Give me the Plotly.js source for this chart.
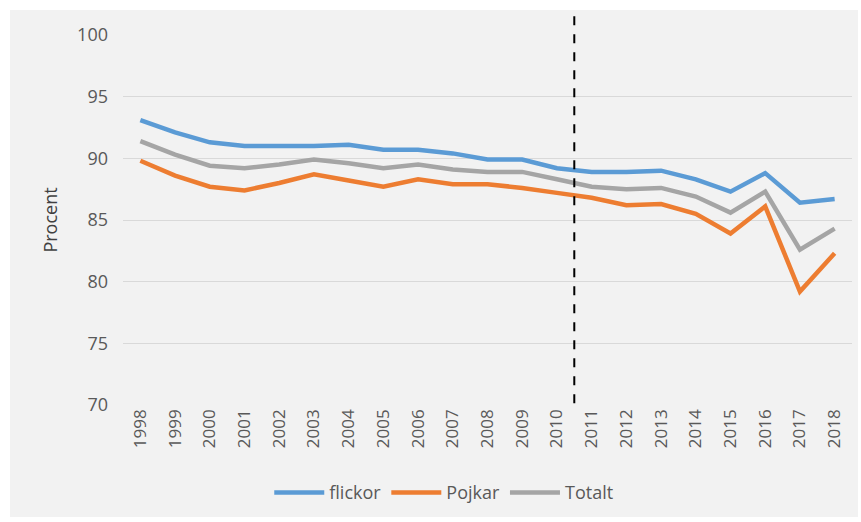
<!DOCTYPE html>
<html><head><meta charset="utf-8">
<script src="https://cdn.plot.ly/plotly-3.0.1.min.js"></script>
<style>html,body{margin:0;padding:0;background:#fff;}#c{position:absolute;left:10px;top:10px;width:848px;height:507px;}</style>
</head><body><div id="c"></div>
<script>
const years = ['1998','1999','2000','2001','2002','2003','2004','2005','2006','2007','2008','2009','2010','2011','2012','2013','2014','2015','2016','2017','2018'];
const flickor = [93.1,92.1,91.3,91.0,91.0,91.0,91.1,90.7,90.7,90.4,89.9,89.9,89.2,88.9,88.9,89.0,88.3,87.3,88.8,86.4,86.7];
const pojkar = [89.8,88.6,87.7,87.4,88.0,88.7,88.2,87.7,88.3,87.9,87.9,87.6,87.2,86.8,86.2,86.3,85.5,83.9,86.1,79.2,82.3];
const totalt = [91.4,90.3,89.4,89.2,89.5,89.9,89.6,89.2,89.5,89.1,88.9,88.9,88.3,87.7,87.5,87.6,86.9,85.6,87.3,82.6,84.3];
const names = ['flickor','Pojkar','Totalt'];
const colors = ['#5B9BD5','#ED7D31','#A5A5A5'];
const series = [flickor, pojkar, totalt];
const traces = series.map((s,i)=>({x:years,y:s,type:'scatter',mode:'lines',name:names[i],line:{color:colors[i],width:4.5}}));
const font = {family:'"Open Sans", sans-serif', size:15, color:'#595959'};
Plotly.newPlot('c', traces, {
  paper_bgcolor:'#F2F2F2', plot_bgcolor:'#F2F2F2',
  margin:{l:113,r:6,t:25,b:110},
  font: font,
  showlegend:true,
  legend:{orientation:'h',x:0.44,xanchor:'center',y:-0.237,yanchor:'middle',font:{size:18,color:'#595959'},itemwidth:50,traceorder:'normal'},
  xaxis:{type:'category',range:[-0.5,20.5],tickangle:-90,showgrid:false,zeroline:false,showline:false,ticks:'',tickfont:{size:17,color:'#595959'}},
  yaxis:{range:[70,100],dtick:5,tick0:70,showgrid:true,gridcolor:'#D9D9D9',gridwidth:1,zeroline:false,showline:false,ticks:'',ticksuffix:'   ',tickfont:{size:18,color:'#595959'},
    title:{text:'Procent',font:{size:18,color:'#404040'},standoff:14}},
  shapes:[{type:'line',xref:'x',yref:'paper',x0:12.5,x1:12.5,y0:0.005,y1:1.054,line:{color:'#000',width:2,dash:'dash'}}]
}, {displayModeBar:false});
</script></body></html>
